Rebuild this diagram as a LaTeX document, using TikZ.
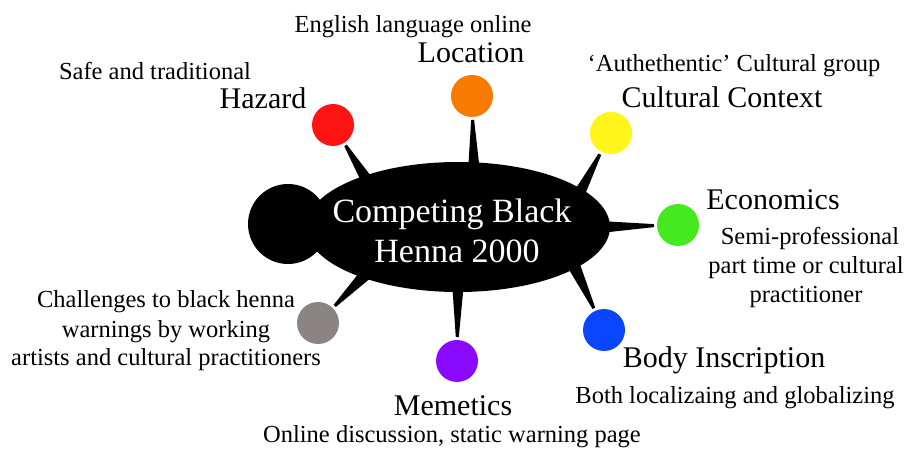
\documentclass[tikz,border=0pt]{standalone}
\usepackage{fontspec}
\setmainfont{Liberation Serif}
\usetikzlibrary{calc}
\definecolor{cred}{HTML}{FF1414}
\definecolor{corange}{HTML}{F87A00}
\definecolor{cyellow}{HTML}{FFF51A}
\definecolor{cgreen}{HTML}{44EA1E}
\definecolor{cblue}{HTML}{0A46FF}
\definecolor{cpurple}{HTML}{8A0AFF}
\definecolor{cgray}{HTML}{8A8584}
\newcommand\myspoke[2]{%
  \fill[black] ($(#2)!6pt!90:(#1)$) -- ($(#2)!6pt!-90:(#1)$)
    -- ($($(#1)!24pt!(#2)$)!1.5pt!90:(#2)$) -- ($($(#1)!24pt!(#2)$)!1.5pt!-90:(#2)$) -- cycle;}
\tikzset{
  dot/.style={circle,minimum size=42pt,inner sep=0pt},
  small/.style={font=\fontsize{24.5}{29}\selectfont,inner sep=0pt,anchor=base,align=center},
  big/.style={font=\fontsize{30}{34}\selectfont,inner sep=0pt,anchor=base},
  centre/.style={font=\fontsize{34}{40}\selectfont,text=white,align=center,inner sep=0pt}
}
\begin{document}
\begin{tikzpicture}[x=1pt,y=-1pt]
\useasboundingbox (0,0) rectangle (908,449);
% central blob
\fill[black] (288,224) circle[radius=40];
\fill[black] (458,227) ellipse[x radius=152,y radius=65];
% circles
\node[dot,fill=cred] (haz) at (333,125) {};
\node[dot,fill=corange] (loc) at (472,96) {};
\node[dot,fill=cyellow] (cul) at (611,133) {};
\node[dot,fill=cgreen] (eco) at (678,225) {};
\node[dot,fill=cblue] (bod) at (604,330) {};
\node[dot,fill=cpurple] (mem) at (457,361) {};
\node[dot,fill=cgray] (cha) at (318,323) {};
% spoke bases
\coordinate (bhaz) at (368,182);
\coordinate (bloc) at (474,172);
\coordinate (bcul) at (578,196);
\coordinate (beco) at (600,227);
\coordinate (bbod) at (575,268);
\coordinate (bmem) at (458,282);
\coordinate (bcha) at (365,275);
\myspoke{haz}{bhaz}
\myspoke{loc}{bloc}
\myspoke{cul}{bcul}
\myspoke{eco}{beco}
\myspoke{bod}{bbod}
\myspoke{mem}{bmem}
\myspoke{cha}{bcha}
% centre text
\node[centre,anchor=base] (t1) at (452,223) {Competing Black};
\node[centre,anchor=base] (t2) at (457,263) {Henna 2000};
% labels
\node[small] (l1) at (413,33) {English language online};
\node[big] (l2) at (471,63) {Location};
\node[small] (l3) at (155,80) {Safe and traditional};
\node[big] (l4) at (263,109) {Hazard};
\node[small] (l5) at (734,72) {`Authethentic' Cultural group};
\node[big] (l6) at (722,108) {Cultural Context};
\node[big] (l7) at (773,210) {Economics};
\node[small] (l8) at (810,245) {Semi-professional};
\node[small] (l9) at (806,274) {part time or cultural};
\node[small] (l10) at (806,302) {practitioner};
\node[small] (l11) at (166,308) {Challenges to black henna};
\node[small] (l12) at (166,337) {warnings by working};
\node[small] (l13) at (166,365) {artists and cultural practitioners};
\node[big] (l14) at (724,367) {Body Inscription};
\node[small] (l15) at (735,403) {Both localizaing and globalizing};
\node[big] (l16) at (453,415) {Memetics};
\node[small] (l17) at (452,442) {Online discussion, static warning page};
\end{tikzpicture}
\end{document}
